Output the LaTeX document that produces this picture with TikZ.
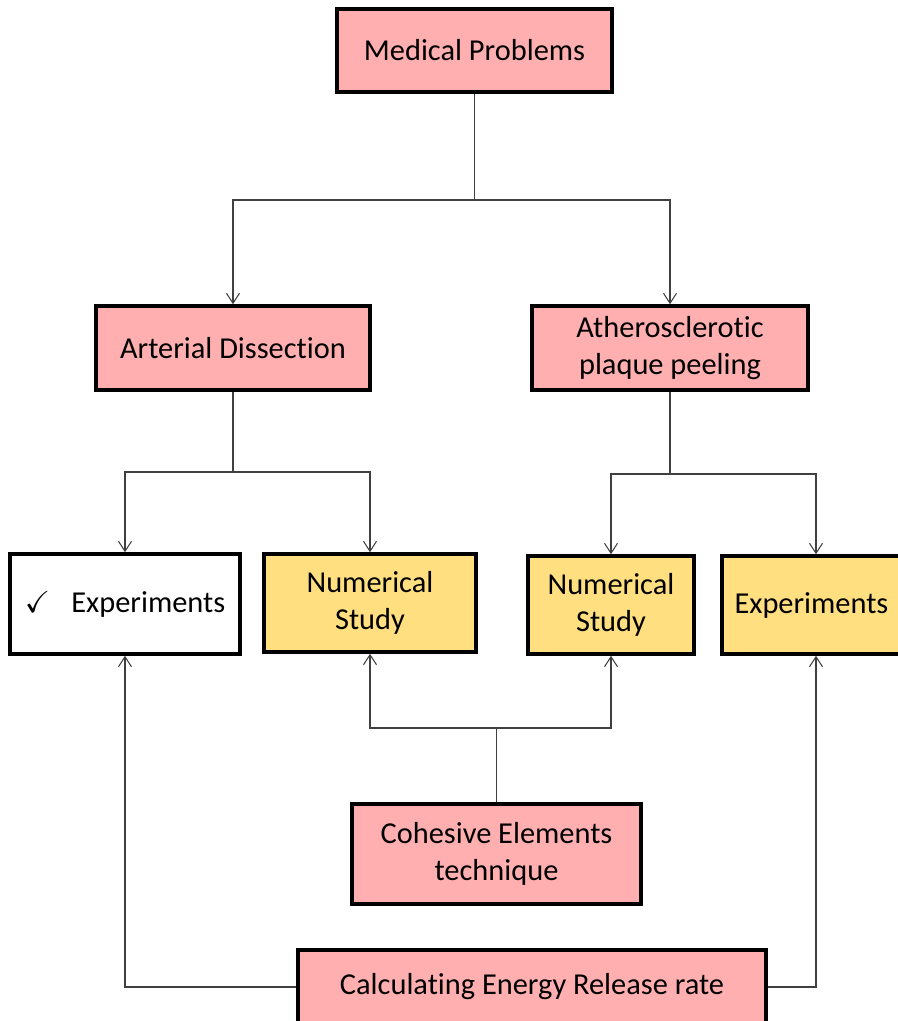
\documentclass[tikz,border=0pt]{standalone}
\usepackage{fontspec}
\usepackage{amssymb}
\setmainfont{Carlito}[Ligatures=NoCommon]
\usetikzlibrary{arrows.meta}

\definecolor{boxpink}{HTML}{FFAFAF}
\definecolor{boxyellow}{HTML}{FFDF80}
\definecolor{linegray}{HTML}{404040}

\begin{document}
\begin{tikzpicture}[x=0.02cm, y=-0.02cm]
    \tikzset{
      box/.style={draw=black, line width=2pt, align=center, inner sep=0pt,
                  font=\fontsize{17.3}{21}\selectfont},
      pinkbox/.style={box, fill=boxpink},
      yellowbox/.style={box, fill=boxyellow},
      whitebox/.style={box, fill=white},
      link/.style={draw=linegray, line width=0.6pt},
      arr/.style={link, -{Straight Barb[length=2mm, width=2.6mm]}}
    }
    \useasboundingbox (0,0) rectangle (898,1021);

      % boxes
      \node[pinkbox, minimum width=5.5cm, minimum height=1.66cm] (med) at (474.5,50.5) {Medical Problems};
      \node[pinkbox, minimum width=5.48cm, minimum height=1.68cm] (art) at (233,348) {Arterial Dissection};
      \node[pinkbox, minimum width=5.52cm, minimum height=1.68cm] (ath) at (670,348) {Atherosclerotic\\plaque peeling};

      \node[whitebox, minimum width=4.6cm, minimum height=2cm] (expL) at (125,604) {$\checkmark$\hspace{0.7em}Experiments};
      \node[yellowbox, minimum width=4.24cm, minimum height=1.96cm] (numL) at (370,603) {Numerical\\Study};
      \node[yellowbox, minimum width=3.32cm, minimum height=1.96cm] (numR) at (611,605) {Numerical\\Study};
      \node[yellowbox, minimum width=3.76cm, minimum height=1.96cm] (expR) at (816,605) {\hspace{-0.3em}Experiments};

      \node[pinkbox, minimum width=5.78cm, minimum height=2cm] (coh) at (496.5,854) {Cohesive Elements\\technique};
      \node[pinkbox, minimum width=9.36cm, minimum height=1.48cm] (calc) at (532,987) {Calculating Energy Release rate};

      % junctions
      \coordinate (j1) at (474.5,200);
      \coordinate (j2) at (233,472);
      \coordinate (j3) at (670,474);
      \coordinate (j4) at (496.5,728);

      % top level
      \draw[link] (med.south) -- (j1);
      \draw[arr] (j1) -| (art.north);
      \draw[arr] (j1) -| (ath.north);

      % second level
      \draw[link] (art.south) -- (j2);
      \draw[arr] (j2) -| (expL.north);
      \draw[arr] (j2) -| (numL.north);

      \draw[link] (ath.south) -- (j3);
      \draw[arr] (j3) -| (numR.north);
      \draw[arr] (j3) -| (expR.north);

      % cohesive elements
      \draw[link] (coh.north) -- (j4);
      \draw[arr] (j4) -| (numL.south);
      \draw[arr] (j4) -| (numR.south);

      % energy release rate
      \draw[arr] (calc.west) -| (expL.south);
      \draw[arr] (calc.east) -| (expR.south);

\end{tikzpicture}
\end{document}
